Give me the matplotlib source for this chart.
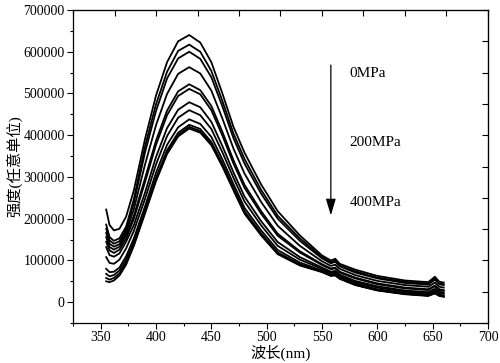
import matplotlib
matplotlib.use("Agg")
import matplotlib.pyplot as plt
from matplotlib.ticker import MultipleLocator, NullFormatter

plt.rcParams['font.family'] = ['Liberation Serif', 'Noto Sans CJK SC']

# --- data (intensity in thousands) ---
wavelength = [355, 358, 362, 367, 373, 380, 390, 400, 410, 420, 430, 440, 450, 460, 470,
              480, 495, 510, 530, 550, 558, 562, 566, 580, 600, 625, 646, 652, 656, 660]

s01 = [222, 185, 172, 176, 205, 268, 390, 495, 575, 625, 640, 622, 575, 500, 420,
       358, 282, 218, 160, 112, 100, 104, 92, 78, 63, 52, 48, 61, 49, 47]
s02 = [186, 156, 147, 153, 181, 247, 372, 474, 552, 602, 617, 600, 554, 482, 404,
       343, 269, 207, 153, 108, 96, 100, 88, 74, 59, 49, 45, 57, 45, 43]
s03 = [176, 148, 140, 146, 174, 238, 358, 458, 536, 584, 600, 583, 539, 469, 393,
       332, 260, 200, 147, 105, 93, 97, 86, 71, 57, 46, 42, 54, 43, 41]
s04 = [166, 140, 133, 139, 168, 223, 329, 424, 499, 547, 563, 548, 507, 440, 368,
       308, 240, 183, 135, 98, 87, 90, 80, 65, 51, 41, 37, 47, 37, 35]
s05 = [156, 132, 126, 133, 161, 207, 296, 387, 459, 505, 522, 508, 470, 408, 340,
       281, 218, 164, 122, 91, 81, 83, 73, 59, 45, 35, 31, 40, 31, 29]
s06 = [145, 124, 118, 126, 153, 200, 287, 377, 448, 494, 511, 498, 460, 399, 332,
       274, 212, 159, 119, 89, 79, 81, 71, 57, 43, 33, 29, 38, 29, 27]
s07 = [132, 113, 109, 117, 145, 185, 262, 348, 417, 461, 479, 467, 432, 374, 311,
       253, 194, 144, 108, 83, 73, 75, 66, 51, 38, 28, 24, 32, 25, 23]
s08 = [108, 94, 92, 102, 129, 171, 247, 330, 398, 442, 460, 448, 415, 359, 298,
       241, 184, 135, 102, 80, 70, 72, 63, 48, 35, 25, 21, 29, 22, 20]
s09 = [80, 72, 73, 83, 110, 153, 229, 310, 377, 419, 438, 427, 396, 342, 283,
       226, 172, 125, 95, 76, 67, 68, 60, 45, 31, 22, 18, 25, 18, 16]
s10 = [68, 62, 65, 76, 102, 145, 219, 298, 364, 406, 425, 415, 384, 332, 274,
       218, 165, 119, 91, 74, 64, 66, 57, 42, 29, 20, 16, 23, 16, 14]
s11 = [58, 54, 58, 69, 95, 139, 215, 294, 359, 401, 420, 410, 380, 328, 271,
       215, 162, 117, 89, 73, 64, 65, 57, 42, 29, 20, 16, 22, 16, 14]
s12 = [50, 48, 52, 64, 90, 135, 212, 290, 355, 397, 416, 406, 376, 325, 268,
       212, 160, 115, 88, 72, 63, 64, 56, 41, 28, 19, 15, 21, 15, 13]

series = [s01, s02, s03, s04, s05, s06, s07, s08, s09, s10, s11, s12]
pressure_labels = ['0MPa', '200MPa', '400MPa']

x_min, x_max = 325, 700
y_min, y_max = -50000, 700000

fig = plt.figure(figsize=(5.0, 3.63), dpi=100)
ax = fig.add_axes([0.146, 0.110, 0.830, 0.8625])

for s in series:
    ax.plot(wavelength, [v * 1000 for v in s], color='black', lw=1.3)

ax.set_xlim(x_min, x_max)
ax.set_ylim(y_min, y_max)

ax.xaxis.set_major_locator(MultipleLocator(50))
ax.xaxis.set_minor_locator(MultipleLocator(25))
ax.yaxis.set_major_locator(MultipleLocator(100000))
ax.yaxis.set_minor_locator(MultipleLocator(50000))
ax.tick_params(which='both', direction='out', top=False, right=False,
               labelsize=10, width=0.8, pad=2)
ax.tick_params(which='major', length=4)
ax.tick_params(which='minor', length=2.5)
ax.set_xticks([350, 400, 450, 500, 550, 600, 650, 700])
ax.set_yticks(range(0, 700001, 100000))
ax.set_yticklabels([str(v) for v in range(0, 700001, 100000)])

# top and right frame ticks, evenly spaced along the frame
sx = ax.secondary_xaxis('top', functions=(lambda x: (x - x_min) / (x_max - x_min),
                                          lambda f: x_min + f * (x_max - x_min)))
sx.set_xticks([i / 10 for i in range(11)])
sx.xaxis.set_major_formatter(NullFormatter())
sx.tick_params(direction='in', length=4, width=0.8)
sy = ax.secondary_yaxis('right', functions=(lambda y: (y - y_min) / (y_max - y_min),
                                            lambda f: y_min + f * (y_max - y_min)))
sy.set_yticks([i / 10 for i in range(11)])
sy.yaxis.set_major_formatter(NullFormatter())
sy.tick_params(direction='in', length=4, width=0.8)

for sp in ax.spines.values():
    sp.set_linewidth(0.9)

ax.set_xlabel('波长(nm)', fontsize=11, labelpad=0)
ax.set_ylabel('强度(任意单位)', fontsize=11, labelpad=1)

# pressure arrow and labels
ax.annotate('', xy=(558, 208000), xytext=(558, 568000),
            arrowprops=dict(arrowstyle='-|>,head_length=1.0,head_width=0.3',
                            color='black', lw=0.9, shrinkA=0, shrinkB=0))
ax.text(575, 549000, pressure_labels[0], fontsize=11, va='center', ha='left')
ax.text(575, 382000, pressure_labels[1], fontsize=11, va='center', ha='left')
ax.text(575, 238000, pressure_labels[2], fontsize=11, va='center', ha='left')

fig.savefig('out.png', dpi=100)
